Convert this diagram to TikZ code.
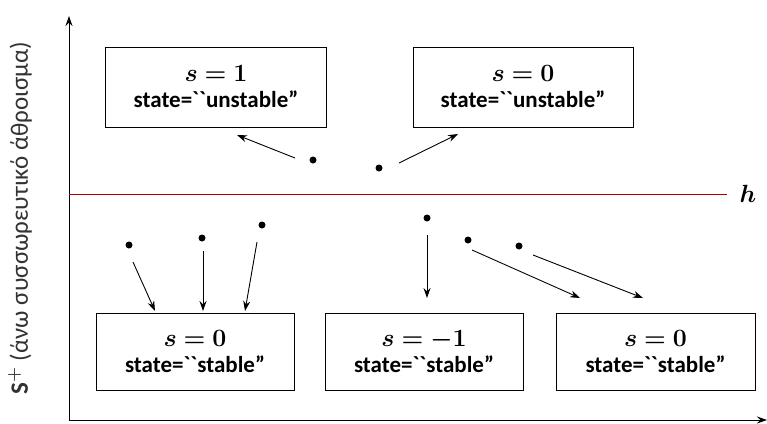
\documentclass[tikz,border=0pt]{standalone}
\usepackage{fontspec}
\setmainfont{Carlito}
\usepackage{amsmath}
\usepackage{bm}
\usetikzlibrary{arrows.meta}
\tikzset{
  statebox/.style={draw, line width=0.9pt, minimum width=220pt, minimum height=80pt, inner sep=0pt, align=center, font=\fontsize{23}{26}\selectfont\bfseries},
  dotnode/.style={circle, fill=black, inner sep=0pt, minimum size=7pt},
  arr/.style={-{Stealth[length=10pt,width=7pt]}, line width=0.9pt},
  axis/.style={-{Stealth[length=10pt,width=7pt]}, line width=1pt}
}
\newcommand{\sval}[1]{{\fontsize{25}{26}\selectfont$\bm{s=#1}$}}
\newcommand{\stq}[1]{state=\textasciigrave\textasciigrave#1''}
\begin{document}
\begin{tikzpicture}[x=1pt,y=-1pt]
\useasboundingbox (0,0) rectangle (767,423);
% axes
\coordinate (O) at (69,420);
\coordinate (Ytop) at (69,16);
\coordinate (Xend) at (767,420);
\draw[axis] (O) -- (Ytop);
\draw[axis] (O) -- (Xend);
% threshold
\coordinate (hL) at (69,194);
\coordinate (hR) at (727,194);
\draw[red!70!black, line width=0.8pt] (hL) -- (hR);
\node[font=\fontsize{28}{30}\selectfont] (hlab) at (748,194) {$\bm{h}$};
% y label
\node[rotate=90, font=\fontsize{25}{27}\selectfont, text=black!80] (ylab) at (20,218) {\textbf{S}$^{\bm{+}}$ (άνω συσσωρευτικό άθροισμα)};
% boxes
\node[statebox, minimum width=221pt] (b1) at (216,87) {\sval{1}\\\stq{unstable}};
\node[statebox, minimum width=220pt] (b2) at (523,87) {\sval{0}\\\stq{unstable}};
\node[statebox, minimum width=198pt, minimum height=77pt] (b3) at (195,351.5) {\sval{0}\\\stq{stable}};
\node[statebox, minimum width=198pt, minimum height=77pt] (b4) at (424,351.5) {\sval{-1}\\\stq{stable}};
\node[statebox, minimum width=199pt, minimum height=77pt] (b5) at (655.5,351.5) {\sval{0}\\\stq{stable}};
% dots
\node[dotnode] (d1) at (313,160) {};
\node[dotnode] (d2) at (379,168) {};
\node[dotnode] (d3) at (129,245) {};
\node[dotnode] (d4) at (202,238) {};
\node[dotnode] (d5) at (262,225) {};
\node[dotnode] (d6) at (427,218) {};
\node[dotnode] (d7) at (468,240) {};
\node[dotnode] (d8) at (519,246) {};
% arrows
\draw[arr] ([shift={(-18,-2)}]d1.center) -- (237,135);
\draw[arr] ([shift={(20,-5)}]d2.center) -- (458,134);
\draw[arr] ([shift={(4,17)}]d3.center) -- (155,311);
\draw[arr] ([shift={(1,13)}]d4.center) -- (203,311);
\draw[arr] ([shift={(-5,17)}]d5.center) -- (245,311);
\draw[arr] ([shift={(0,17)}]d6.center) -- (427,298);
\draw[arr] ([shift={(4,10)}]d7.center) -- (580,298);
\draw[arr] ([shift={(14,9)}]d8.center) -- (643,298);
\end{tikzpicture}
\end{document}
